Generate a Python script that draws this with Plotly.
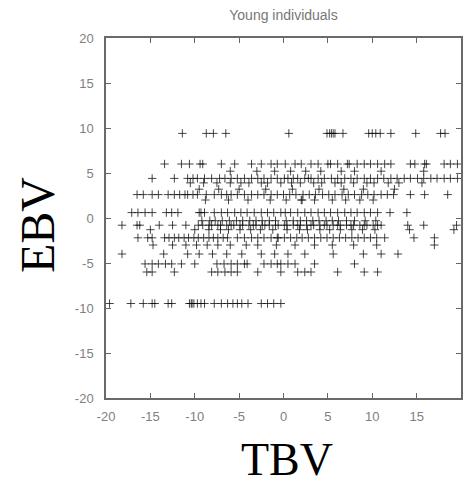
import plotly.graph_objects as go

# ---- data: EBV bands and the TBV values in each ----
band_levels = [9.4, 6.0, 5.2, 4.4, 3.9, 3.2, 2.6, 2.0, 0.6, -0.3, -0.8, -1.3, -2.2, -3.0, -4.0, -5.1, -6.0, -9.5]

tbv_e94 = [-11.4, -8.7, -7.9, -6.5, 0.6, 4.9, 5.2, 5.4, 5.6, 5.8, 6.7, 9.6, 10.0, 10.4, 10.9, 12.1, 14.9, 17.7, 18.2]
tbv_e60 = [-13.4, -11.5, -10.6, -9.4, -9.1, -7.0, -5.5, -3.6, -2.5, -1.4, -0.7, 0.2, 1.3, 2.0, 3.1, 3.9, 5.0,
           5.3, 6.1, 7.2, 7.4, 8.3, 9.1, 9.8, 10.6, 11.4, 12.1, 14.3, 14.8, 15.9, 16.1, 18.1, 18.8, 19.6]
tbv_e52 = [-6.0, -3.0, -1.0, 0.8, 2.5, 4.2, 6.5, 8.0, 11.0, 15.8]
tbv_e44 = [-14.8, -12.3, -10.8, -10.2, -9.7, -8.9, -8.1, -7.2, -6.6, -5.9, -5.2, -4.4, -3.6, -2.9, -2.2, -1.4,
           -0.7, 0.1, 0.5, 1.1, 1.6, 2.4, 2.8, 3.1, 3.9, 4.6, 5.4, 6.1, 6.9, 7.6, 8.3, 9.1, 9.8, 10.6, 11.3,
           12.1, 12.8, 13.6, 14.3, 15.1, 15.8, 16.6, 17.3, 18.1, 18.8, 19.6]
tbv_e39 = [-10.5, -9.0, -7.5, -6.0, -4.8, -3.9, -2.5, -1.8, -0.3, 0.9, 1.9, 3.4, 4.3, 5.8, 6.5, 7.9, 9.4,
           10.2, 11.8, 13.0, 15.6]
tbv_e32 = [-9.5, -7.3, -5.0, -2.0, 1.0, 4.0, 6.8, 9.0, 12.5]
tbv_e26 = [-16.5, -15.8, -14.8, -14.1, -13.0, -12.3, -11.7, -11.1, -10.8, -10.2, -9.7, -8.7, -7.8, -7.0, -6.4,
           -5.9, -5.2, -4.4, -3.6, -2.9, -2.2, -1.4, -0.7, 0.0, 0.7, 1.4, 2.2, 2.9, 3.6, 4.4, 5.1, 5.8, 6.6,
           7.3, 8.0, 8.8, 9.5, 10.2, 11.0, 11.7, 12.4, 14.3, 15.9, 18.5]
tbv_e20 = [-8.8, -6.2, -4.0, -1.5, 0.3, 2.0, 2.1, 3.5, 5.5, 7.0, 8.6, 10.1]
tbv_e06 = [-17.1, -16.4, -15.6, -14.8, -13.2, -12.6, -11.9, -9.5, -9.3, -8.9, -7.8, -7.0, -6.3, -5.5, -4.8,
           -4.1, -3.3, -2.5, -1.8, -1.1, -0.3, 0.2, 0.8, 1.6, 2.4, 3.1, 3.9, 4.6, 5.3, 6.1, 6.9, 7.6, 8.3,
           9.1, 9.8, 10.6, 12.0, 13.9]
tbv_em03 = [-9.2, -8.3, -7.7, -6.9, -6.1, -5.3, -4.6, -3.8, -3.1, -2.4, -1.6, -0.9, 0.3, 1.1, 1.9, 2.6, 3.3,
            4.0, 4.8, 5.5, 6.2, 7.1, 8.0, 9.2, 10.4]
tbv_em08 = [-18.2, -16.5, -16.2, -14.0, -12.5, -11.0, -9.6, -9.1, -8.4, -8.1, -7.4, -7.1, -6.4, -5.9, -5.6,
            -4.9, -4.6, -3.9, -3.4, -3.1, -2.4, -2.1, -1.6, -0.9, -0.6, 0.1, 0.4, 1.1, 1.6, 1.9, 2.6, 3.1,
            3.4, 4.1, 4.6, 4.9, 5.6, 6.1, 6.4, 7.1, 7.6, 7.9, 8.6, 9.1, 9.4, 10.1, 10.6, 11.0, 14.0, 15.8, 19.5]
tbv_em13 = [-15.0, -10.0, -8.4, -7.1, -6.2, -4.9, -3.7, -2.6, -1.2, 0.4, 1.8, 2.7, 4.1, 5.2, 6.4, 7.7, 8.9,
            10.3, 14.2, 19.2]
tbv_em22 = [-16.4, -15.3, -14.8, -13.4, -12.9, -12.3, -11.8, -11.2, -10.7, -10.1, -9.6, -9.0, -8.4, -7.9,
            -7.4, -6.8, -6.3, -5.2, -4.4, -3.6, -2.9, -2.2, -1.4, -0.7, -0.6, 0.1, 0.8, 1.5, 2.1, 2.8, 3.5,
            4.2, 4.9, 5.6, 6.3, 7.0, 7.7, 8.4, 9.1, 9.8, 10.5, 11.4, 14.7, 17.0]
tbv_em30 = [-14.7, -12.5, -11.0, -9.8, -8.6, -7.4, -6.0, -4.2, -2.9, -0.8, 1.3, 3.5, 5.5, 7.9, 10.5, 17.0]
tbv_em40 = [-18.2, -13.5, -10.8, -9.5, -8.0, -6.4, -4.7, -2.5, -1.0, 0.5, 2.4, 5.6, 9.0, 11.0, 12.9]
tbv_em51 = [-15.6, -14.8, -14.1, -13.3, -12.6, -11.5, -10.0, -7.5, -6.7, -5.9, -5.2, -4.4, -4.1, -2.2, -1.4,
            -0.7, -0.3, 0.5, 1.3, 3.5, 8.0]
tbv_em60 = [-15.4, -14.8, -12.3, -8.1, -7.4, -6.6, -5.9, -5.2, -2.9, -0.3, 1.6, 2.4, 3.1, 6.1, 9.1, 10.6]
tbv_em95 = [-19.6, -17.2, -15.8, -14.8, -14.5, -13.0, -12.6, -10.6, -10.4, -10.3, -10.1, -9.7, -9.3, -8.9,
            -7.8, -7.0, -6.3, -5.7, -5.2, -4.7, -4.0, -2.5, -1.8, -1.1, -0.3]

band_tbvs = [tbv_e94, tbv_e60, tbv_e52, tbv_e44, tbv_e39, tbv_e32, tbv_e26, tbv_e20, tbv_e06, tbv_em03,
             tbv_em08, tbv_em13, tbv_em22, tbv_em30, tbv_em40, tbv_em51, tbv_em60, tbv_em95]

tick_vals = [-20, -15, -10, -5, 0, 5, 10, 15, 20]
tick_labels = ["-20", "-15", "-10", "-5", "0", "5", "10", "15", "20"]

tbv = []
ebv = []
for level, xs in zip(band_levels, band_tbvs):
    tbv.extend(xs)
    ebv.extend([level] * len(xs))

fig = go.Figure()
fig.add_trace(go.Scatter(
    x=tbv, y=ebv, mode="markers",
    marker=dict(symbol="cross-thin", size=6, line=dict(width=1, color="rgba(10,10,10,0.75)")),
    showlegend=False, hoverinfo="skip",
))

axis_common = dict(
    range=[-20, 20], tickvals=tick_vals, ticktext=tick_labels,
    showgrid=False, zeroline=False, showline=True, mirror="ticks",
    linecolor="#6a6a6a", linewidth=1.5,
    ticks="inside", ticklen=5, tickwidth=1, tickcolor="#666",
    tickfont=dict(family="Liberation Sans, Arial, sans-serif", size=13, color="#808080"),
)
fig.update_xaxes(**axis_common, ticklabelstandoff=6)
fig.update_yaxes(**axis_common, ticklabelstandoff=8)

fig.update_layout(
    width=465, height=487,
    margin=dict(l=106, r=2, t=38, b=89),
    paper_bgcolor="white", plot_bgcolor="white",
    title=dict(text="Young individuals", x=0.5, xref="paper", y=1 - 15 / 487, yref="container",
               xanchor="center", yanchor="middle",
               font=dict(family="Liberation Sans, Arial, sans-serif", size=14, color="#777")),
    annotations=[
        dict(text="EBV", xref="paper", yref="paper", x=-0.195, y=0.48, textangle=-90,
             showarrow=False, xanchor="center", yanchor="middle",
             font=dict(family="Liberation Serif, Times New Roman, serif", size=48, color="black")),
        dict(text="TBV", xref="paper", yref="paper", x=0.51, y=-0.17,
             showarrow=False, xanchor="center", yanchor="middle",
             font=dict(family="Liberation Serif, Times New Roman, serif", size=46, color="black")),
    ],
)

fig.write_html("out.html")
